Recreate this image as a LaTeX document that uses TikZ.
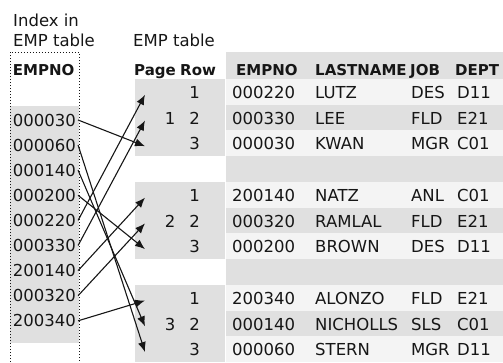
\documentclass[tikz,border=0pt]{standalone}
\usepackage{fontspec}
\setmainfont{DejaVu Sans}
\usetikzlibrary{arrows.meta}
\definecolor{EmpText}{HTML}{161616}
\definecolor{EmpLight}{HTML}{F4F4F4}
\definecolor{EmpGray}{HTML}{E0E0E0}

\begin{document}
\begin{tikzpicture}[x=1pt,y=-1pt,font=\fontsize{16.5}{19}\selectfont,text=EmpText,
  txt/.style={anchor=base west,inner sep=0pt},
  hdr/.style={txt,font=\fontsize{15}{18}\selectfont\bfseries},
  ptr/.style={draw=EmpText,line width=1.1pt,-{Latex[length=10pt,width=8pt]}}]
\useasboundingbox (0,0) rectangle (503,362);
\fill[EmpGray] (226,52) rectangle (503,362);
\fill[EmpGray] (10,106) rectangle (79,343);
\draw[EmpText,line width=0.8pt,dash pattern=on 0.8pt off 2.2pt] (10,362) -- (10,52) -- (79,52) -- (79,362);
\node[txt] (idx1) at (13,26.5) {Index in};
\node[txt] (idx2) at (13,46.5) {EMP table};
\node[txt] (tbl) at (133,46.5) {EMP table};
\node[hdr] (hidx) at (12.7,75) {EMPNO};
\foreach \x/\1 in {134/Page,180/Row,236/EMPNO,315/LASTNAME,410/JOB,455/DEPT} {
  \node[hdr] (h\1) at (\x,75) {\1};
}
\foreach \p in {1,2,3} {
  \pgfmathsetmacro\ptop{79+102.92*(\p-1)}
  \fill[EmpGray] (135,\ptop) rectangle (225,\ptop+77.2);
  \fill[EmpLight] (226,\ptop) rectangle (503,\ptop+25.73);
  \fill[EmpLight] (226,\ptop+51.46) rectangle (503,\ptop+77.2);
  \node[anchor=base,inner sep=0pt] (pg\p) at (170,\ptop+45.2) {\p};
  \foreach \r in {1,2,3} {
    \node[anchor=base east,inner sep=0pt] (rw\p\r) at (200,\ptop+25.73*\r-6.2) {\r};
    \coordinate (tip\p\r) at (145,\ptop+25.73*\r-10);
  }
}
\foreach \p/\r/\eno/\lname/\job/\dept in %
{1/1/000220/LUTZ/DES/D11,1/2/000330/LEE/FLD/E21,1/3/000030/KWAN/MGR/C01,
 2/1/200140/NATZ/ANL/C01,2/2/000320/RAMLAL/FLD/E21,2/3/000200/BROWN/DES/D11,
 3/1/200340/ALONZO/FLD/E21,3/2/000140/NICHOLLS/SLS/C01,3/3/000060/STERN/MGR/D11} {
  \pgfmathsetmacro\ybase{79+102.92*(\p-1)+25.73*\r-6.2}
  \node[txt] (emp\p\r) at (232,\ybase) {\eno};
  \node[txt] (name\p\r) at (315,\ybase) {\lname};
  \node[txt] (job\p\r) at (411,\ybase) {\job};
  \node[txt] (dept\p\r) at (457,\ybase) {\dept};
}
\foreach \k/\eno/\tgt in %
{0/000030/13,1/000060/33,2/000140/32,3/000200/23,4/000220/11,
 5/000330/12,6/200140/21,7/000320/22,8/200340/31} {
  \node[txt,inner xsep=2pt] (i\eno) at (10.7,126+25.1*\k) {\eno};
  \draw[ptr] (i\eno.east) -- (tip\tgt);
}
\end{tikzpicture}
\end{document}
